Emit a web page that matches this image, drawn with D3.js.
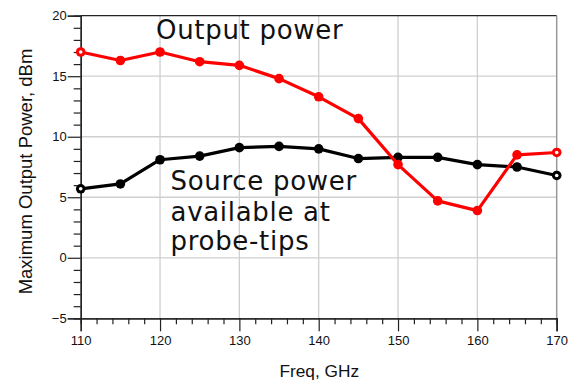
<!DOCTYPE html>
<html>
<head>
<meta charset="utf-8">
<script src="https://cdn.jsdelivr.net/npm/d3@7"></script>
<style>
body { margin: 0; background: white; }
</style>
</head>
<body>
<script>
var czestotliwosci = [110, 115, 120, 125, 130, 135, 140, 145, 150, 155, 160, 165, 170]
var mocWyjsciowa = [17.0, 16.3, 17.0, 16.2, 15.9, 14.8, 13.3, 11.5, 7.7, 4.7, 3.9, 8.5, 8.7]
var mocZrodla = [5.7, 6.1, 8.1, 8.4, 9.1, 9.2, 9.0, 8.2, 8.3, 8.3, 7.7, 7.5, 6.8]
var tickiX = [110, 120, 130, 140, 150, 160, 170]
var tickiY = [-5, 0, 5, 10, 15, 20]

var lewo = 80.7, prawo = 556.7, gora = 15.7, dol = 318.3

var obrazek = d3.select("body").append("svg")
  .attr("width", 574)
  .attr("height", 383)

var x = d3.scaleLinear().domain([110, 170]).range([lewo, prawo])
var y = d3.scaleLinear().domain([-5, 20]).range([dol, gora])

// siatka
obrazek.append("g").selectAll("line")
  .data(tickiX.slice(1, -1))
  .enter().append("line")
  .attr("x1", function(d) { return x(d) }).attr("x2", function(d) { return x(d) })
  .attr("y1", gora).attr("y2", dol)
  .style("stroke", "#cfcfcf").style("stroke-width", 1.3)
obrazek.append("g").selectAll("line")
  .data(tickiY.slice(1, -1))
  .enter().append("line")
  .attr("x1", lewo).attr("x2", prawo)
  .attr("y1", function(d) { return y(d) }).attr("y2", function(d) { return y(d) })
  .style("stroke", "#cfcfcf").style("stroke-width", 1.3)

// ramka gorna i prawa
obrazek.append("line").attr("x1", lewo).attr("x2", prawo).attr("y1", gora).attr("y2", gora)
  .style("stroke", "#222").style("stroke-width", 1.3)
obrazek.append("line").attr("x1", prawo).attr("x2", prawo).attr("y1", gora).attr("y2", dol + 13)
  .style("stroke", "#999").style("stroke-width", 1.5)

// osie
var osX = d3.axisBottom(x).tickValues(tickiX).tickSize(13).tickPadding(4).tickFormat(d3.format("d"))
var osXmale = d3.axisBottom(x).tickValues(d3.range(112, 170, 2).filter(function(d) { return d % 10 !== 0 })).tickSize(6).tickFormat("")
var osY = d3.axisLeft(y).tickValues(tickiY).tickSize(13).tickPadding(1).tickFormat(d3.format("d"))
var osYmale = d3.axisLeft(y).tickValues(d3.range(-4, 20, 1).filter(function(d) { return d % 5 !== 0 })).tickSize(7).tickFormat("")

function stylOsi(g) {
  g.select(".domain").style("stroke", "#222").style("stroke-width", 1.3)
  g.selectAll(".tick line").style("stroke", "#222").style("stroke-width", 1.2)
  g.selectAll("text").style("font-family", "Liberation Sans, Arial, sans-serif").style("font-size", "13px").style("fill", "#111")
}
obrazek.append("g").attr("transform", "translate(0," + dol + ")").call(osXmale).call(stylOsi)
obrazek.append("g").attr("transform", "translate(0," + dol + ")").call(osX).call(stylOsi)
obrazek.append("g").attr("transform", "translate(" + lewo + ",0)").call(osYmale).call(stylOsi)
obrazek.append("g").attr("transform", "translate(" + lewo + ",0)").call(osY).call(stylOsi)

// tytuly osi
obrazek.append("text").attr("x", 319.3).attr("y", 376.7)
  .attr("text-anchor", "middle")
  .style("font-family", "Liberation Sans, Arial, sans-serif").style("font-size", "17.3px").style("fill", "#111")
  .text("Freq, GHz")
obrazek.append("text").attr("transform", "translate(32,171.5) rotate(-90)")
  .attr("text-anchor", "middle")
  .style("font-family", "Liberation Sans, Arial, sans-serif").style("font-size", "18.5px").style("fill", "#111")
  .text("Maximum Output Power, dBm")

// serie
var serie = [
  { wartosci: mocZrodla, kolor: "black" },
  { wartosci: mocWyjsciowa, kolor: "#ff0000" }
]
var linia = d3.line()
  .x(function(d, i) { return x(czestotliwosci[i]) })
  .y(function(d) { return y(d) })

serie.forEach(function(s) {
  obrazek.append("path").attr("d", linia(s.wartosci))
    .style("fill", "none").style("stroke", s.kolor).style("stroke-width", 3.2)
    .style("stroke-linejoin", "round")
  obrazek.append("g").selectAll("circle")
    .data(s.wartosci)
    .enter().append("circle")
    .attr("cx", function(d, i) { return x(czestotliwosci[i]) })
    .attr("cy", function(d) { return y(d) })
    .attr("r", 4.8)
    .style("fill", s.kolor)
  var konce = [0, s.wartosci.length - 1]
  obrazek.append("g").selectAll("circle")
    .data(konce)
    .enter().append("circle")
    .attr("cx", function(d) { return x(czestotliwosci[d]) })
    .attr("cy", function(d) { return y(s.wartosci[d]) })
    .attr("r", 1.8)
    .style("fill", "white")
})

// podpisy
var napisy = obrazek.append("g")
  .style("font-family", "DejaVu Sans, Verdana, sans-serif").style("font-size", "26px")
  .style("letter-spacing", "0.7px").style("fill", "#111")
napisy.append("text").attr("x", 156).attr("y", 39.3).text("Output power")
napisy.append("text").attr("x", 170.5).attr("y", 190).text("Source power")
napisy.append("text").attr("x", 170.5).attr("y", 220.5).text("available at")
napisy.append("text").attr("x", 170.5).attr("y", 250).text("probe-tips")
</script>
</body>
</html>
